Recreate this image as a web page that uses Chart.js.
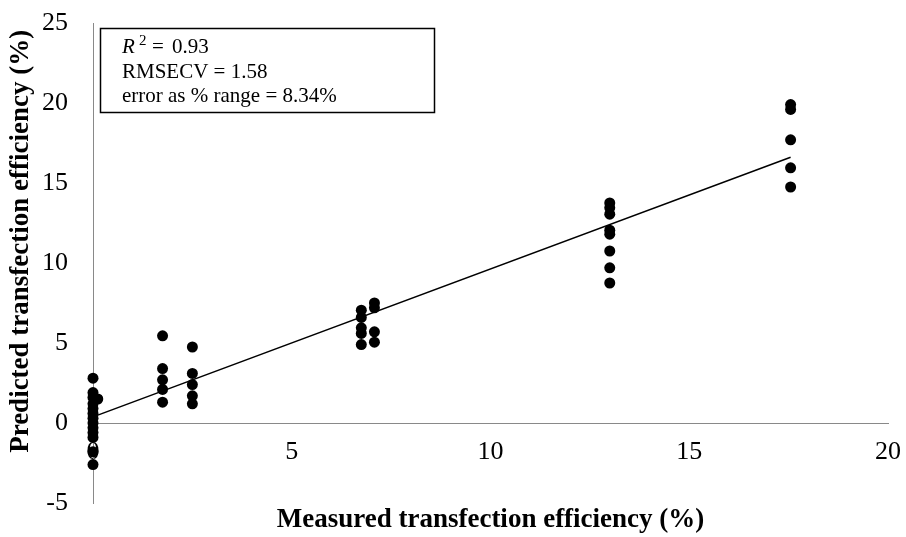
<!DOCTYPE html>
<html>
<head>
<meta charset="utf-8">
<script src="https://cdn.jsdelivr.net/npm/chart.js@4.4.1/dist/chart.umd.min.js"></script>
<style>
  html, body { margin: 0; padding: 0; background: #fff; }
  #wrap { width: 906px; height: 537px; }
</style>
</head>
<body>
<div id="wrap"><canvas id="c" width="906" height="537"></canvas></div>
<script>
// ---- data ----
const measured = [
  0, 0, 0, 0, 0, 0, 0, 0, 0, 0, 0, 0, 0, 0.12,
  1.75, 1.75, 1.75, 1.75, 1.75,
  2.5, 2.5, 2.5, 2.5, 2.5,
  6.75, 6.75, 6.75, 6.75, 6.75,
  7.08, 7.08, 7.08, 7.08,
  13.0, 13.0, 13.0, 13.0, 13.0, 13.0, 13.0, 13.0,
  17.55, 17.55, 17.55, 17.55, 17.55
];
const predicted = [
  2.8, 1.9, 1.6, 1.2, 0.9, 0.6, 0.3, 0.0, -0.3, -0.6, -0.9, -1.8, -2.6, 1.5,
  5.45, 3.4, 2.7, 2.1, 1.3,
  4.75, 3.1, 2.4, 1.7, 1.2,
  7.05, 6.6, 5.95, 5.6, 4.9,
  7.5, 7.2, 5.7, 5.05,
  13.75, 13.45, 13.05, 12.05, 11.8, 10.75, 9.7, 8.75,
  19.9, 19.6, 17.7, 15.95, 14.75
];
const trendX = [0.12, 17.55];
const trendY = [0.49, 16.61];
const xTicks = [0, 5, 10, 15, 20];
const yTicks = [-5, 0, 5, 10, 15, 20, 25];
const statsLines = ["RMSECV = 1.58", "error as % range = 8.34%"];
const r2Value = "0.93";
const xTitle = "Measured transfection efficiency (%)";
const yTitle = "Predicted transfection efficiency (%)";

const FONT = "'Liberation Serif', 'Times New Roman', serif";
const AXIS_GRAY = "#898989";

const scatterPts = measured.map((x, i) => ({ x: x, y: predicted[i] }));
const trendPts = trendX.map((x, i) => ({ x: x, y: trendY[i] }));

function zeroPad(s) {
  s.paddingTop = 0; s.paddingBottom = 0; s.paddingLeft = 0; s.paddingRight = 0;
}

const statsBox = {
  id: 'statsBox',
  afterDraw(chart) {
    const ctx = chart.ctx;
    ctx.save();
    const bx = 100.5, by = 28.5, bw = 334, bh = 84;
    ctx.fillStyle = '#fff';
    ctx.fillRect(bx, by, bw, bh);
    ctx.strokeStyle = '#000';
    ctx.lineWidth = 1.5;
    ctx.strokeRect(bx, by, bw, bh);
    ctx.fillStyle = '#000';
    ctx.textBaseline = 'alphabetic';
    ctx.textAlign = 'left';
    ctx.font = "italic 21px " + FONT;
    ctx.fillText("R", 122, 53);
    ctx.font = "15px " + FONT;
    ctx.fillText("2", 139, 45);
    ctx.font = "21px " + FONT;
    ctx.fillText("=", 152, 53);
    ctx.fillText(r2Value, 172, 53);
    ctx.fillText(statsLines[0], 122, 78);
    ctx.fillText(statsLines[1], 122, 102);
    ctx.restore();
  }
};

new Chart(document.getElementById('c'), {
  type: 'scatter',
  data: {
    datasets: [
      {
        label: 'points',
        data: scatterPts,
        backgroundColor: '#000',
        borderColor: '#000',
        borderWidth: 0,
        pointRadius: 5.5,
        pointHoverRadius: 5.5,
        clip: false
      },
      {
        label: 'trend',
        type: 'line',
        data: trendPts,
        borderColor: '#000',
        borderWidth: 1.5,
        pointRadius: 0,
        fill: false,
        clip: false
      }
    ]
  },
  options: {
    responsive: false,
    animation: false,
    devicePixelRatio: 1,
    layout: { padding: { top: 23, right: 18, bottom: 0, left: 0 } },
    plugins: { legend: { display: false }, tooltip: { enabled: false } },
    scales: {
      x: {
        type: 'linear',
        position: { y: 0 },
        min: 0, max: 20,
        afterBuildTicks: (s) => { s.ticks = xTicks.map(v => ({ value: v })); },
        grid: { display: false, drawTicks: false },
        border: { display: true, color: AXIS_GRAY, width: 1 },
        ticks: { padding: 14, color: '#000', font: { family: FONT, size: 26 }, maxRotation: 0 },
        afterFit: (s) => { zeroPad(s); }
      },
      xt: {
        type: 'linear',
        position: 'bottom',
        min: 0, max: 1,
        grid: { display: false, drawTicks: false },
        border: { display: false },
        ticks: { display: false },
        title: { display: true, text: xTitle, color: '#000', font: { family: FONT, size: 27, weight: 'bold' }, padding: { top: 0, bottom: 1 } },
        afterFit: (s) => { s.height = 34; zeroPad(s); }
      },
      y: {
        type: 'linear',
        position: 'left',
        min: -5, max: 25,
        afterBuildTicks: (s) => { s.ticks = yTicks.map(v => ({ value: v })); },
        grid: { display: false, drawTicks: false },
        border: { display: true, color: AXIS_GRAY, width: 1 },
        ticks: { padding: 25, color: '#000', font: { family: FONT, size: 26 } },
        title: { display: true, text: yTitle + ' ', align: 'end', color: '#000', font: { family: FONT, size: 27, weight: 'bold' }, padding: { top: 5, bottom: 0 } },
        afterFit: (s) => { s.width = 93; zeroPad(s); }
      }
    }
  },
  plugins: [statsBox]
});
</script>
</body>
</html>
